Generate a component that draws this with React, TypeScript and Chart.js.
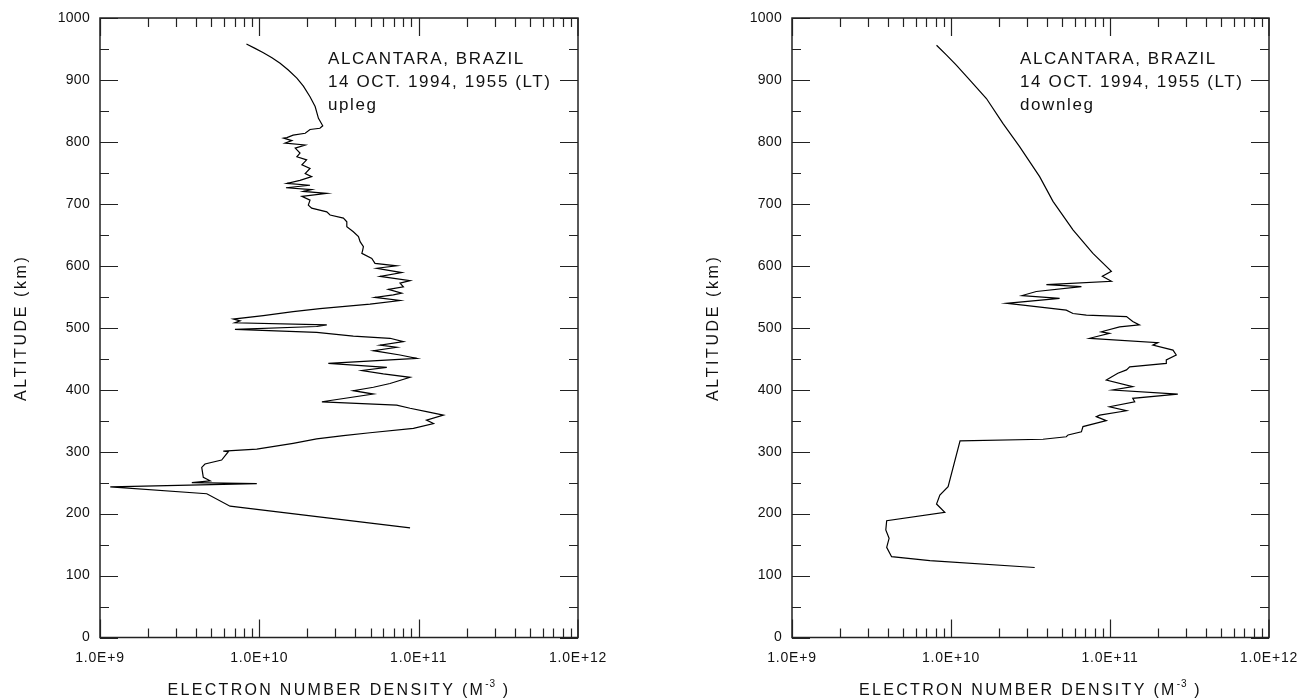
import React, { useEffect, useRef } from "react";
import { Chart, registerables } from "chart.js";

Chart.register(...registerables);

// ---------- data ----------
const uplegAltitudeKm = [
  958, 951, 944, 936, 927, 916, 903, 890, 873, 857, 838, 826, 822, 820, 814, 811, 807, 806, 802, 798, 795, 790, 782, 776,
  771, 763, 757, 749, 744, 738, 733, 730, 726, 723, 720, 717, 712, 706, 698, 693, 687, 682, 677, 671,
  663, 655, 647, 639, 631, 625, 620, 612, 604, 600, 596, 589, 583, 576, 572, 566, 562, 556, 553, 549,
  544, 538, 531, 526, 519.5, 514, 511, 508, 504.5, 502, 497.5, 492.5, 486.5, 483, 477.5, 472, 468.5, 463, 456, 450.5,
  442.5, 436, 431, 425.5, 420, 410, 404, 398.5, 393, 380.5, 375, 370, 364.5, 359, 351, 345.5, 337.5, 330.5, 326, 320.5,
  313.5, 304, 301, 300, 286.5, 280, 274.5, 258.5, 253, 250, 248.5, 243, 232, 212, 177,
];
const uplegDensity = [
  8.3e9, 9.4e9, 1.06e10, 1.2e10, 1.35e10, 1.52e10, 1.72e10, 1.89e10, 2.08e10, 2.24e10, 2.35e10, 2.5e10, 2.4e10, 2.08e10, 1.94e10, 1.63e10, 1.49e10, 1.42e10, 1.6e10, 1.45e10, 1.94e10, 1.68e10, 1.8e10, 1.72e10,
  1.98e10, 1.85e10, 2.08e10, 1.94e10, 2.13e10, 1.8e10, 1.49e10, 2.08e10, 1.47e10, 2.13e10, 1.89e10, 2.65e10, 1.85e10, 2.08e10, 2.03e10, 2.13e10, 2.65e10, 2.78e10, 3.37e10, 3.54e10,
  3.54e10, 3.89e10, 4.19e10, 4.29e10, 4.5e10, 4.45e10, 4.4e10, 5.08e10, 5.32e10, 7.28e10, 5.46e10, 7.83e10, 5.73e10, 8.83e10, 7.64e10, 8.02e10, 6.46e10, 7.83e10, 6.93e10, 5.32e10,
  7.64e10, 4.95e10, 2.4e10, 1.63e10, 1.06e10, 6.87e9, 7.57e9, 7.03e9, 2.65e10, 2.29e10, 7.03e9, 2.29e10, 3.89e10, 6.61e10, 8.02e10, 5.73e10, 7.28e10, 5.2e10, 7.64e10, 9.73e10,
  2.71e10, 6.31e10, 4.4e10, 6.0e10, 8.83e10, 6.61e10, 5.2e10, 3.89e10, 5.2e10, 2.47e10, 7.28e10, 8.83e10, 1.12e11, 1.43e11, 1.12e11, 1.24e11, 9.27e10, 4.95e10, 3.37e10, 2.29e10,
  1.63e10, 9.64e9, 5.94e9, 6.39e9, 5.8e9, 4.56e9, 4.35e9, 4.45e9, 4.91e9, 3.77e9, 9.64e9, 1.16e9, 4.68e9, 6.55e9, 8.83e10,
];

const downlegAltitudeKm = [
  956, 940, 924, 900, 870, 830, 792.5, 744, 704, 658, 620, 591, 583, 575, 569.5, 566.5, 558.5, 552, 547.5, 539.5,
  536.5, 528.5, 523, 520.5, 518, 510, 504.5, 501.5, 493.5, 491, 483, 476, 472, 464, 456, 448, 442.5, 437, 432, 426.5,
  415.5, 405, 399.5, 393, 386, 380.5, 372.5, 366, 359, 356.5, 350, 340.5, 332, 327, 324, 320, 317.5, 243.5, 230, 215.5,
  202, 188.5, 173.5, 160, 145.5, 130.5, 124, 113,
];
const downlegDensity = [
  8.11e9, 9.38e9, 1.08e10, 1.31e10, 1.67e10, 2.12e10, 2.7e10, 3.61e10, 4.38e10, 5.85e10, 7.81e10, 1.02e11, 8.95e10, 1.02e11, 3.98e10, 6.61e10, 3.44e10, 2.8e10, 4.82e10, 2.23e10,
  2.84e10, 5.31e10, 5.85e10, 7.1e10, 1.27e11, 1.39e11, 1.53e11, 1.15e11, 8.81e10, 9.93e10, 7.45e10, 2.0e11, 1.86e11, 2.49e11, 2.61e11, 2.26e11, 2.26e11, 1.33e11, 1.27e11, 1.12e11,
  9.48e10, 1.39e11, 1.04e11, 2.67e11, 1.39e11, 1.43e11, 9.93e10, 1.27e11, 8.61e10, 8.2e10, 9.48e10, 6.76e10, 6.61e10, 5.45e10, 5.31e10, 3.79e10, 1.14e10, 9.59e9, 8.51e9, 8.11e9,
  9.14e9, 3.94e9, 3.89e9, 4.08e9, 3.94e9, 4.23e9, 7.36e9, 3.36e10,
];

const altitudeMajorTicks = [0, 100, 200, 300, 400, 500, 600, 700, 800, 900, 1000];
const densityDecades = [1e9, 1e10, 1e11, 1e12];
const densityTickLabels = ["1.0E+9", "1.0E+10", "1.0E+11", "1.0E+12"];
const uplegNote = ["ALCANTARA, BRAZIL", "14 OCT. 1994, 1955 (LT)", "upleg"];
const downlegNote = ["ALCANTARA, BRAZIL", "14 OCT. 1994, 1955 (LT)", "downleg"];
const xAxisTitle = "ELECTRON NUMBER DENSITY (M";
const yAxisTitle = "ALTITUDE (km)";

const FONT = '"Liberation Sans", Arial, Helvetica, sans-serif';
const CANVAS_W = 657;
const CANVAS_H = 700;

function makeFramePlugin(note: string[], noteX: number) {
  return {
    id: "frameAndText",
    afterDraw(chart: any) {
      const ctx: CanvasRenderingContext2D = chart.ctx;
      const a = chart.chartArea;
      const xs = chart.scales.x;
      const ys = chart.scales.y;
      ctx.save();
      // frame
      ctx.strokeStyle = "#222";
      ctx.lineWidth = 1.5;
      ctx.strokeRect(a.left, a.top, a.right - a.left, a.bottom - a.top);
      // ticks
      ctx.lineWidth = 1.2;
      ctx.beginPath();
      for (let d = 0; d < 3; d++) {
        for (let k = 1; k < 10; k++) {
          const v = k * Math.pow(10, 9 + d);
          const px = Math.round(xs.getPixelForValue(v)) + 0.5;
          const len = k === 1 ? 18 : 9;
          ctx.moveTo(px, a.bottom);
          ctx.lineTo(px, a.bottom - len);
          ctx.moveTo(px, a.top);
          ctx.lineTo(px, a.top + len);
        }
      }
      {
        const px = xs.getPixelForValue(1e12);
        ctx.moveTo(px, a.bottom);
        ctx.lineTo(px, a.bottom - 18);
        ctx.moveTo(px, a.top);
        ctx.lineTo(px, a.top + 18);
      }
      for (let alt = 0; alt <= 1000; alt += 50) {
        const py = Math.round(ys.getPixelForValue(alt)) + 0.5;
        const len = alt % 100 === 0 ? 18 : 9;
        ctx.moveTo(a.left, py);
        ctx.lineTo(a.left + len, py);
        ctx.moveTo(a.right, py);
        ctx.lineTo(a.right - len, py);
      }
      ctx.stroke();

      ctx.fillStyle = "#111";
      const c: any = ctx;
      // y tick labels
      ctx.font = `14px ${FONT}`;
      c.letterSpacing = "0.3px";
      ctx.textAlign = "right";
      ctx.textBaseline = "middle";
      altitudeMajorTicks.forEach((t) => {
        ctx.fillText(String(t), a.left - 10, ys.getPixelForValue(t));
      });
      // x tick labels
      c.letterSpacing = "0.8px";
      ctx.textAlign = "center";
      ctx.textBaseline = "top";
      densityDecades.forEach((v, i) => {
        ctx.fillText(densityTickLabels[i], xs.getPixelForValue(v), a.bottom + 14);
      });
      // x title
      const titleSpacing = "2.3px";
      ctx.font = `16px ${FONT}`;
      c.letterSpacing = titleSpacing;
      ctx.textAlign = "left";
      ctx.textBaseline = "alphabetic";
      const mainW = ctx.measureText(xAxisTitle).width;
      ctx.font = `10px ${FONT}`;
      c.letterSpacing = "1px";
      const supW = ctx.measureText("-3").width;
      ctx.font = `16px ${FONT}`;
      c.letterSpacing = titleSpacing;
      const tailW = ctx.measureText(" )").width;
      const total = mainW + supW + tailW;
      let tx = (a.left + a.right) / 2 - total / 2;
      const ty = 695;
      ctx.fillText(xAxisTitle, tx, ty);
      tx += mainW;
      ctx.font = `10px ${FONT}`;
      c.letterSpacing = "1px";
      ctx.fillText("-3", tx, ty - 8);
      tx += supW;
      ctx.font = `16px ${FONT}`;
      c.letterSpacing = titleSpacing;
      ctx.fillText(" )", tx, ty);
      // y title
      ctx.save();
      ctx.translate(a.left - 78, (a.top + a.bottom) / 2);
      ctx.rotate(-Math.PI / 2);
      ctx.textAlign = "center";
      ctx.textBaseline = "middle";
      c.letterSpacing = "2.6px";
      ctx.fillText(yAxisTitle, 0, 0);
      ctx.restore();
      // annotation
      ctx.font = `17px ${FONT}`;
      c.letterSpacing = "1.6px";
      ctx.textAlign = "left";
      ctx.textBaseline = "alphabetic";
      note.forEach((line, i) => {
        ctx.fillText(line, noteX, 64 + i * 23);
      });
      ctx.restore();
    },
  };
}

function ProfileChart(props: {
  altitude: number[];
  density: number[];
  note: string[];
  padLeft: number;
  padRight: number;
  noteX: number;
  left: number;
}) {
  const ref = useRef<HTMLCanvasElement | null>(null);
  useEffect(() => {
    if (!ref.current) return;
    const points = props.altitude.map((alt, i) => ({ x: props.density[i], y: alt }));
    const chart = new Chart(ref.current, {
      type: "scatter",
      data: {
        datasets: [
          {
            data: points,
            showLine: true,
            borderColor: "#000",
            borderWidth: 1.2,
            pointRadius: 0,
            fill: false,
            tension: 0,
          },
        ],
      },
      options: {
        animation: false,
        responsive: false,
        devicePixelRatio: 1,
        layout: { padding: { left: props.padLeft, right: props.padRight, top: 18, bottom: 62.5 } },
        plugins: { legend: { display: false }, tooltip: { enabled: false } },
        scales: {
          x: { type: "logarithmic", min: 1e9, max: 1e12, display: false },
          y: { type: "linear", min: 0, max: 1000, display: false },
        },
      },
      plugins: [makeFramePlugin(props.note, props.noteX) as any],
    });
    return () => chart.destroy();
  }, []);
  return (
    <canvas
      ref={ref}
      width={CANVAS_W}
      height={CANVAS_H}
      style={{ position: "absolute", left: props.left, top: 0, width: CANVAS_W, height: CANVAS_H }}
    />
  );
}

export default function App() {
  return (
    <div style={{ position: "absolute", left: 0, top: 0, width: 1314, height: 700, background: "#fff" }}>
      <ProfileChart
        altitude={uplegAltitudeKm}
        density={uplegDensity}
        note={uplegNote}
        padLeft={100}
        padRight={79}
        noteX={328}
        left={0}
      />
      <ProfileChart
        altitude={downlegAltitudeKm}
        density={downlegDensity}
        note={downlegNote}
        padLeft={135}
        padRight={45}
        noteX={363}
        left={657}
      />
    </div>
  );
}
